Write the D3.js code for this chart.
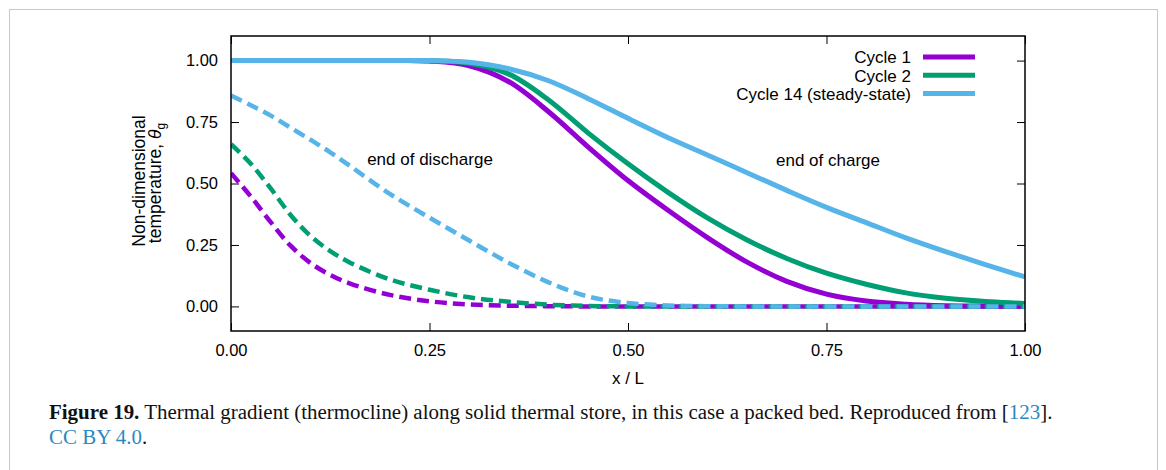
<!DOCTYPE html>
<html>
<head>
<meta charset="utf-8">
<script src="https://cdn.jsdelivr.net/npm/d3@7"></script>
<style>
  html, body { margin: 0; padding: 0; background: #fff; }
  svg { display: block; }
</style>
</head>
<body>
<svg id="chart" width="1166" height="470"></svg>
<script>
// ---------------- DATA ----------------
const xTicks = [0, 0.25, 0.5, 0.75, 1.0];
const yTicks = [0, 0.25, 0.5, 0.75, 1.0];

const xCharge = [0, 0.05, 0.1, 0.15, 0.2, 0.25, 0.3, 0.35, 0.4, 0.45, 0.5,
                 0.55, 0.6, 0.65, 0.7, 0.75, 0.8, 0.85, 0.9, 0.95, 1.0];
const chargeCycle1  = [1, 1, 1, 1, 1, 0.998, 0.979, 0.914, 0.792, 0.648, 0.512,
                       0.392, 0.28, 0.18, 0.102, 0.05, 0.022, 0.009, 0.003, 0.001, 0];
const chargeCycle2  = [1, 1, 1, 1, 1, 0.999, 0.989, 0.945, 0.84, 0.705, 0.58,
                       0.465, 0.36, 0.27, 0.195, 0.135, 0.09, 0.055, 0.033, 0.02, 0.012];
const chargeCycle14 = [1, 1, 1, 1, 1, 1, 0.993, 0.967, 0.918, 0.845, 0.765,
                       0.687, 0.616, 0.544, 0.472, 0.403, 0.341, 0.279, 0.223, 0.17, 0.12];

const xDischarge = [0, 0.025, 0.05, 0.075, 0.1, 0.125, 0.15, 0.2, 0.25, 0.3, 0.35,
                    0.4, 0.45, 0.5, 0.55, 0.6, 0.65, 0.7, 0.75, 0.8, 0.85, 0.9, 0.95, 1.0];
const dischargeCycle1  = [0.542, 0.447, 0.343, 0.247, 0.177, 0.128, 0.093, 0.047, 0.021, 0.008, 0.003,
                          0.001, 0, 0, 0, 0, 0, 0, 0, 0, 0, 0, 0, 0];
const dischargeCycle2  = [0.66, 0.58, 0.48, 0.372, 0.287, 0.225, 0.178, 0.11, 0.068, 0.037, 0.019,
                          0.007, 0.002, 0, 0, 0, 0, 0, 0, 0, 0, 0, 0, 0];
const dischargeCycle14 = [0.858, 0.818, 0.776, 0.727, 0.678, 0.627, 0.571, 0.458, 0.361, 0.268, 0.177,
                          0.098, 0.04, 0.014, 0.004, 0.001, 0, 0, 0, 0, 0, 0, 0, 0];

const seriesNames  = ["Cycle 1", "Cycle 2", "Cycle 14 (steady-state)"];
const seriesColors = ["#9400d3", "#009e73", "#56b4e9"];
const chargeSeries = [chargeCycle1, chargeCycle2, chargeCycle14];
const dischargeSeries = [dischargeCycle1, dischargeCycle2, dischargeCycle14];

// ---------------- LAYOUT ----------------
const svg = d3.select("#chart");
const W = 1166, H = 470;
const plot = { left: 231, right: 1025, top: 36, bottom: 331 };
const sansFont = "'Liberation Sans', Arial, sans-serif";
const serifFont = "'Liberation Serif', 'Times New Roman', serif";

svg.append("rect").attr("x", 0).attr("y", 0).attr("width", W).attr("height", H).attr("fill", "#fff");
svg.append("rect").attr("x", 9.5).attr("y", 9.5).attr("width", 1148).attr("height", 490)
  .attr("fill", "none").attr("stroke", "#c8c8c8").attr("stroke-width", 1);

const x = d3.scaleLinear().domain([0, 1]).range([plot.left, plot.right]);
const y = d3.scaleLinear().domain([-0.1, 1.1]).range([plot.bottom, plot.top]);

svg.append("defs").append("clipPath").attr("id", "clip")
  .append("rect").attr("x", plot.left).attr("y", plot.top)
  .attr("width", plot.right - plot.left).attr("height", plot.bottom - plot.top);

// axes
const fmt = d3.format(".2f");
const gLeft = svg.append("g").attr("transform", `translate(${plot.left},0)`)
  .call(d3.axisLeft(y).tickValues(yTicks).tickSize(-8).tickPadding(13).tickFormat(fmt));
const gBottom = svg.append("g").attr("transform", `translate(0,${plot.bottom})`)
  .call(d3.axisBottom(x).tickValues(xTicks).tickSize(-8).tickPadding(13).tickFormat(fmt));
const gRight = svg.append("g").attr("transform", `translate(${plot.right},0)`)
  .call(d3.axisRight(y).tickValues(yTicks).tickSize(-8).tickFormat(""));
const gTop = svg.append("g").attr("transform", `translate(0,${plot.top})`)
  .call(d3.axisTop(x).tickValues(xTicks).tickSize(-8).tickFormat(""));

[gLeft, gBottom, gRight, gTop].forEach(g => {
  g.select(".domain").remove();
  g.selectAll(".tick line").attr("stroke", "#000").attr("stroke-width", 1);
  g.selectAll(".tick text").attr("font-family", sansFont).attr("font-size", 16.5).attr("fill", "#000");
});

// lines
const line = d3.line().x(d => x(d[0])).y(d => y(d[1])).curve(d3.curveCatmullRom.alpha(0.5));
const gLines = svg.append("g").attr("clip-path", "url(#clip)");
for (let i = 0; i < 3; i++) {
  gLines.append("path")
    .datum(xCharge.map((v, j) => [v, chargeSeries[i][j]]))
    .attr("d", line).attr("fill", "none")
    .attr("stroke", seriesColors[i]).attr("stroke-width", 5);
  gLines.append("path")
    .datum(xDischarge.map((v, j) => [v, dischargeSeries[i][j]]))
    .attr("d", line).attr("fill", "none")
    .attr("stroke", seriesColors[i]).attr("stroke-width", 4.5)
    .attr("stroke-dasharray", "12,6");
}

// frame
svg.append("rect").attr("x", plot.left).attr("y", plot.top)
  .attr("width", plot.right - plot.left).attr("height", plot.bottom - plot.top)
  .attr("fill", "none").attr("stroke", "#000").attr("stroke-width", 1.5);

// legend
const legY = [57, 75.3, 93.6];
seriesNames.forEach((name, i) => {
  svg.append("text").attr("x", 911).attr("y", legY[i] + 6.3)
    .attr("text-anchor", "end").attr("font-family", sansFont).attr("font-size", 17)
    .attr("fill", "#000").text(name);
  svg.append("line").attr("x1", 923).attr("x2", 975).attr("y1", legY[i]).attr("y2", legY[i])
    .attr("stroke", seriesColors[i]).attr("stroke-width", 5);
});

// annotations
svg.append("text").attr("x", 430).attr("y", 165).attr("text-anchor", "middle")
  .attr("font-family", sansFont).attr("font-size", 17).text("end of discharge");
svg.append("text").attr("x", 828).attr("y", 166).attr("text-anchor", "middle")
  .attr("font-family", sansFont).attr("font-size", 17).text("end of charge");

// axis labels
svg.append("text").attr("x", 628).attr("y", 384).attr("text-anchor", "middle")
  .attr("font-family", sansFont).attr("font-size", 17).text("x / L");

svg.append("text").attr("transform", "translate(145,181) rotate(-90)")
  .attr("text-anchor", "middle").attr("font-family", sansFont).attr("font-size", 17.5)
  .text("Non-dimensional");
const yl2 = svg.append("text").attr("transform", "translate(161,183) rotate(-90)")
  .attr("text-anchor", "middle").attr("font-family", sansFont).attr("font-size", 17.5);
yl2.append("tspan").text("temperature, ");
yl2.append("tspan").attr("font-style", "italic").text("θ");
yl2.append("tspan").attr("font-size", 12).attr("dy", 4).text("g");

// caption
const linkBlue = "#2a88c2";
const cap1 = svg.append("text").attr("x", 49).attr("y", 419)
  .attr("font-family", serifFont).attr("font-size", 20).attr("fill", "#111");
cap1.append("tspan").attr("font-weight", "bold").text("Figure 19.");
cap1.append("tspan").text(" Thermal gradient (thermocline) along solid thermal store, in this case a packed bed. Reproduced from [");
cap1.append("tspan").attr("fill", linkBlue).text("123");
cap1.append("tspan").text("].");

const cap2 = svg.append("text").attr("x", 49).attr("y", 444)
  .attr("font-family", serifFont).attr("font-size", 20).attr("fill", "#111");
cap2.append("tspan").attr("fill", linkBlue).text("CC BY 4.0");
cap2.append("tspan").text(".");

const w1 = cap1.node().getComputedTextLength();
const sx = 1004 / w1;
[cap1, cap2].forEach(t => t.attr("transform", `translate(49,0) scale(${sx},1) translate(-49,0)`));
</script>
</body>
</html>
